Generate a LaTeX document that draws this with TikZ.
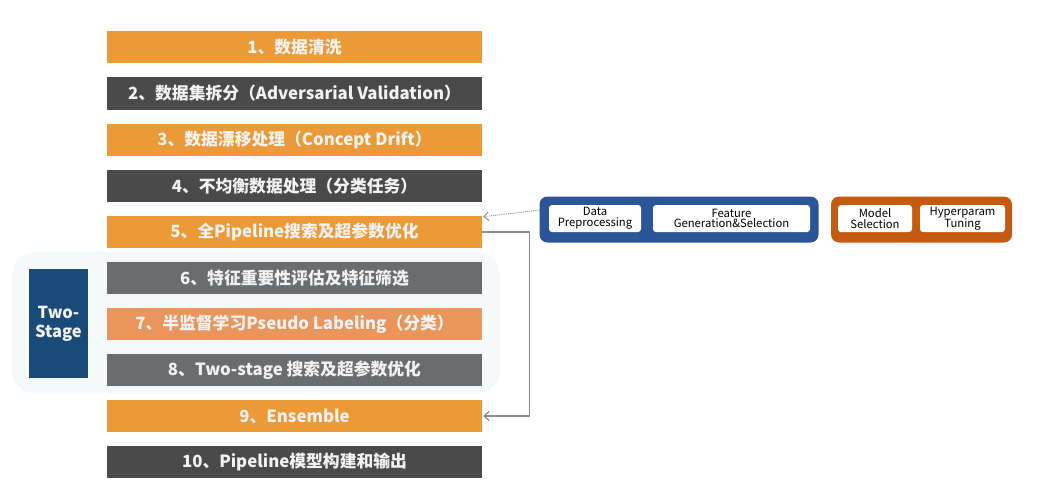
\documentclass[tikz,border=0pt]{standalone}
\usepackage{fontspec}
\setmainfont{Noto Sans CJK SC}
\usetikzlibrary{arrows.meta,calc}
\definecolor{cOr}{HTML}{EB9A37}
\definecolor{cDk}{HTML}{4A4A4A}
\definecolor{cGr}{HTML}{6A6D70}
\definecolor{cOr2}{HTML}{EA955C}
\definecolor{cTS}{HTML}{1A4A78}
\definecolor{cBg}{HTML}{F5F9FC}
\definecolor{cBlue}{HTML}{2A5699}
\definecolor{cBrn}{HTML}{C55A11}
\definecolor{cTxt}{HTML}{F2F2F2}
\definecolor{cLine}{HTML}{8A8A8A}
\tikzset{
  bar/.style={minimum width=375pt, minimum height=32pt, inner sep=0pt, text=cTxt,
    font=\fontsize{16.8}{20}\selectfont\bfseries},
  wbox/.style={fill=white, rounded corners=3pt, minimum height=27pt, inner sep=0pt,
    align=center, font=\fontsize{11.3}{10.8}\selectfont, text=black},
}
\begin{document}
\begin{tikzpicture}[x=1pt,y=-1pt]
\useasboundingbox (0,0) rectangle (1047,503);
% background of two-stage group
\node[fill=cBg, rounded corners=22pt, minimum width=488pt, minimum height=141pt, inner sep=0pt] (bg) at (256,322.5) {};
\node[fill=cTS, minimum width=59pt, minimum height=109pt, inner sep=0pt, text=cTxt, align=center,
  font=\fontsize{16.5}{19}\selectfont\bfseries] (ts) at (58.5,323.5) {Two-\\Stage};
\node[bar, fill=cOr] (b1) at (294.5,47) {1、数据清洗};
\node[bar, fill=cDk] (b2) at (294.5,93.5) {2、数据集拆分（Adversarial Validation）};
\node[bar, fill=cOr] (b3) at (294.5,140) {3、数据漂移处理（Concept Drift）};
\node[bar, fill=cDk] (b4) at (294.5,186) {4、不均衡数据处理（分类任务）};
\node[bar, fill=cOr] (b5) at (294.5,232) {5、全Pipeline搜索及超参数优化};
\node[bar, fill=cGr] (b6) at (294.5,278) {6、特征重要性评估及特征筛选};
\node[bar, fill=cOr2] (b7) at (294.5,324) {7、半监督学习Pseudo Labeling（分类）};
\node[bar, fill=cGr] (b8) at (294.5,370) {8、Two-stage 搜索及超参数优化};
\node[bar, fill=cOr] (b9) at (294.5,416) {9、Ensemble};
\node[bar, fill=cDk] (b10) at (294.5,462) {10、Pipeline模型构建和输出};
% right groups
\node[fill=cBlue, rounded corners=8pt, minimum width=279pt, minimum height=46pt, inner sep=0pt] (blue) at (679,219.5) {};
\node[wbox, minimum width=92pt] (dp) at (595,218.5) {Data\\Preprocessing};
\node[wbox, minimum width=157pt] (fg) at (731.5,218.5) {Feature\\Generation\&Selection};
\node[fill=cBrn, rounded corners=8pt, minimum width=181pt, minimum height=46pt, inner sep=0pt] (brn) at (921.5,219.5) {};
\node[wbox, minimum width=74pt] (ms) at (875,218.5) {Model\\Selection};
\node[wbox, minimum width=85pt] (hp) at (962.5,218.5) {Hyperparam\\Tuning};
% connectors
\draw[cLine, densely dotted, line width=0.9pt, -{Straight Barb[length=5pt,width=9pt]}]
  ([yshift=9.5pt]blue.west) -- ([xshift=1pt,yshift=-1pt]b5.north east);
\draw[cLine, line width=1.2pt, -{Straight Barb[length=5pt,width=9pt]}]
  (b5.east) -- ++(47,0) |- ([xshift=1pt]b9.east);
\end{tikzpicture}
\end{document}
